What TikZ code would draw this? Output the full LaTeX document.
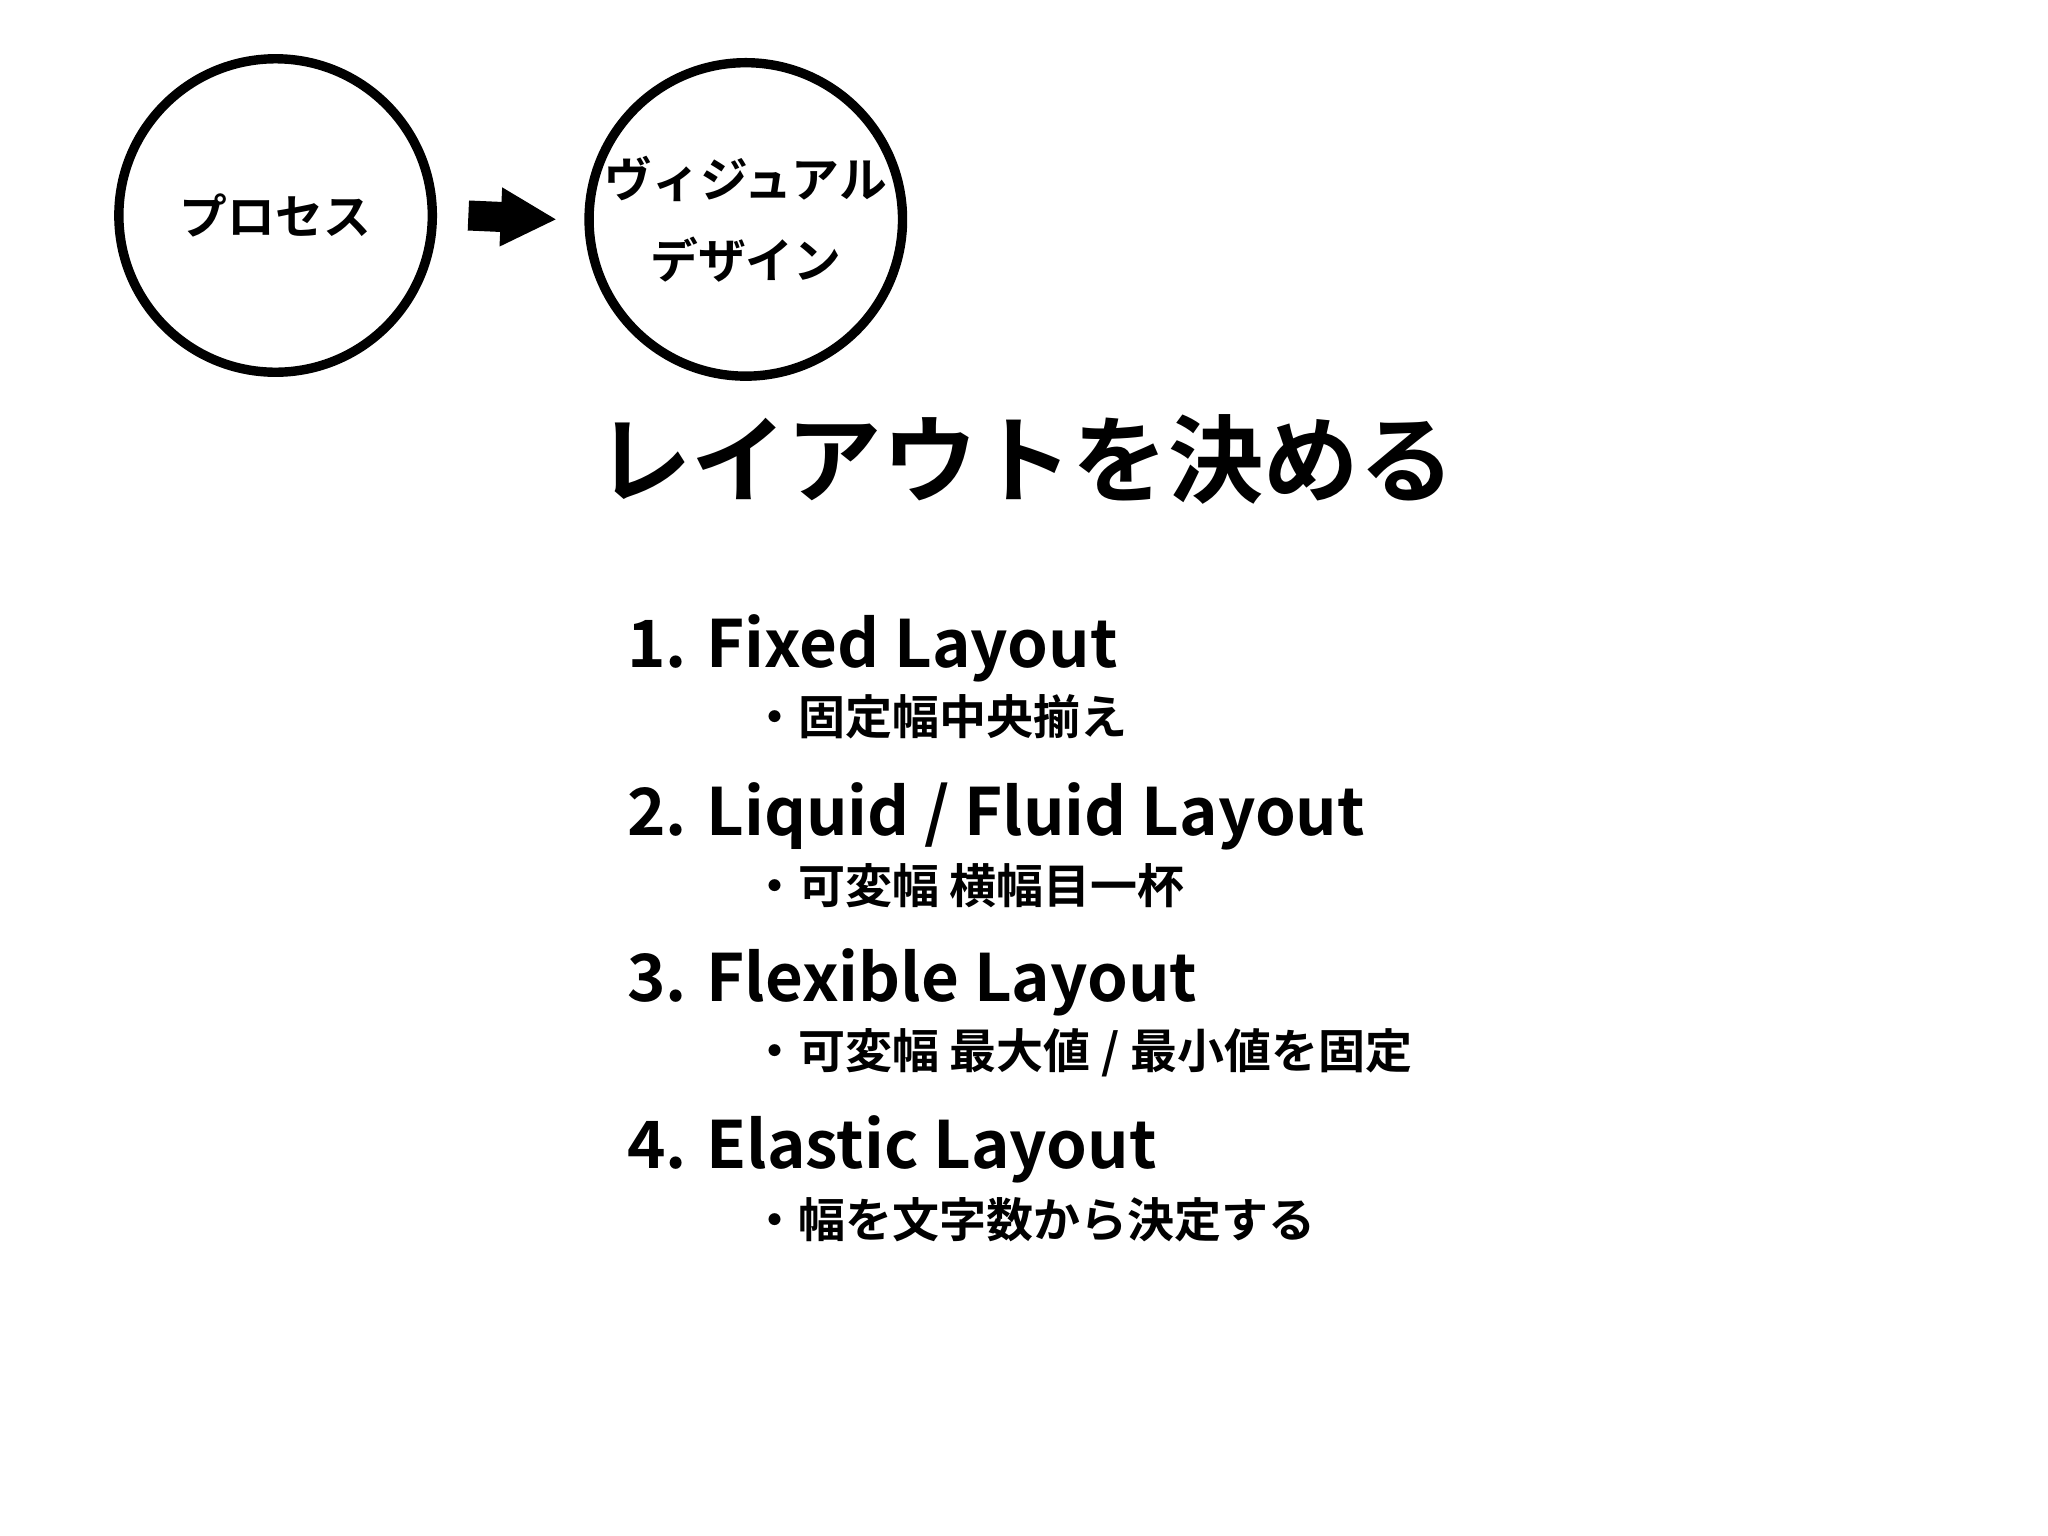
\documentclass[tikz,border=0pt]{standalone}
\usepackage{fontspec}
\setmainfont{Noto Sans CJK JP}[BoldFont=* Bold]
\usetikzlibrary{arrows.meta}
\begin{document}
\begin{tikzpicture}[x=0.5pt,y=-0.5pt,
  circ/.style={circle,draw,line width=3.6pt,minimum size=120pt,inner sep=0pt,font=\bfseries\fontsize{18.3}{31}\selectfont,align=center},
  head/.style={anchor=west,font=\bfseries\fontsize{25}{30}\selectfont},
  sub/.style={anchor=west,font=\bfseries\fontsize{18}{20}\selectfont}]
\useasboundingbox (0,0) rectangle (1568,1176);
\node[circ] (p) at (211,165) {プロセス};
\node[circ] (v) at (571,168) {ヴィジュアル\\デザイン};
\draw[line width=11.5pt,-{Triangle[length=21.5pt,width=21pt]}] ([xshift=12pt]p.east) -- ([xshift=-10.5pt]v.west);
\node (t) at (785,352) {\bfseries\fontsize{36.5}{40}\selectfont レイアウトを決める};
\node[head] (h1) at (473,496) {1. Fixed Layout};
\node[sub] (s1) at (568,549) {・固定幅中央揃え};
\node[head] (h2) at (473,625) {2. Liquid / Fluid Layout};
\node[sub] (s2) at (568,678) {・可変幅 横幅目一杯};
\node[head] (h3) at (473,752) {3. Flexible Layout};
\node[sub] (s3) at (568,806) {・可変幅 最大値 / 最小値を固定};
\node[head] (h4) at (473,880) {4. Elastic Layout};
\node[sub] (s4) at (568,934) {・幅を文字数から決定する};
\end{tikzpicture}
\end{document}
